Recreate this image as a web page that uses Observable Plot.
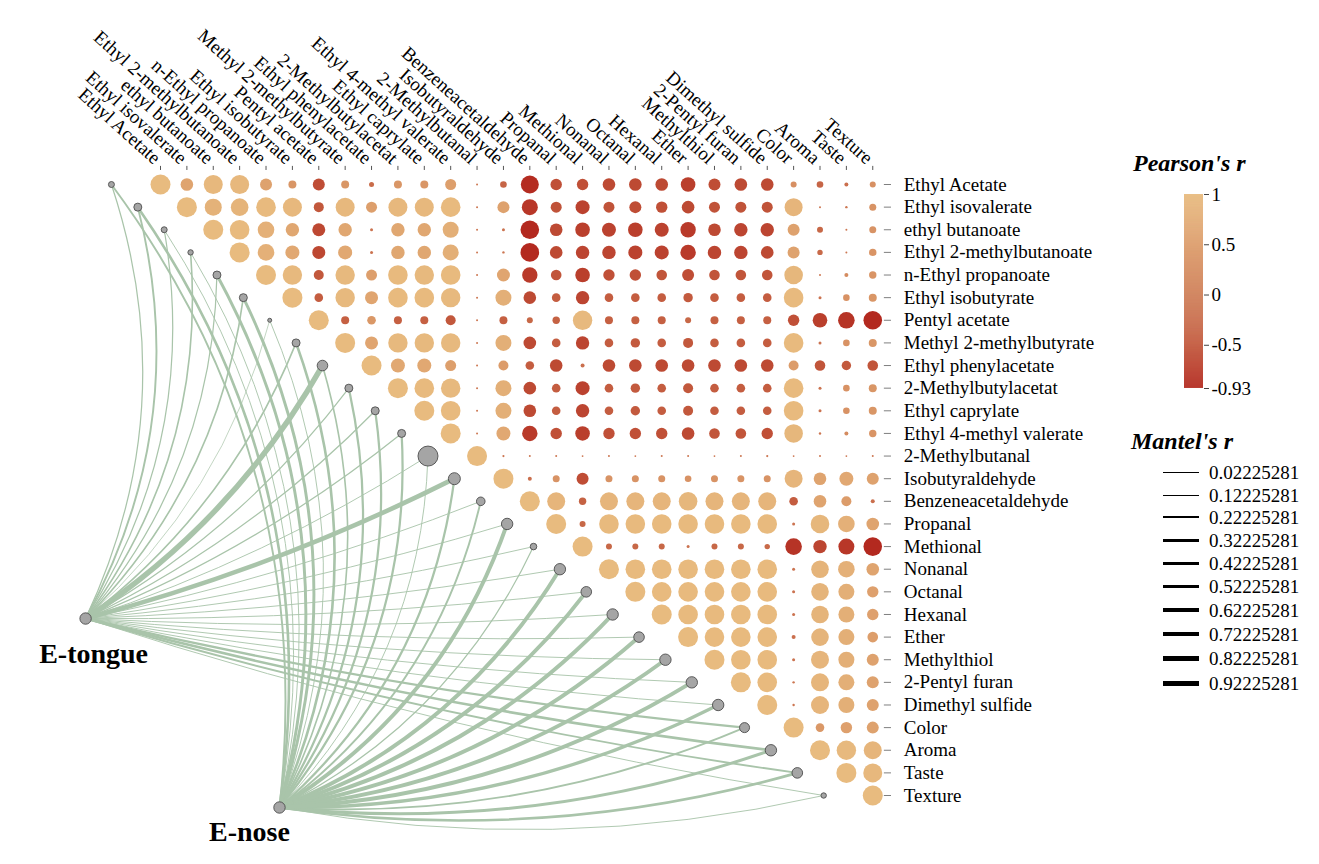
<!DOCTYPE html>
<html><head><meta charset="utf-8">
<script src="https://cdn.jsdelivr.net/npm/d3@7"></script>
<script src="https://cdn.jsdelivr.net/npm/@observablehq/plot@0.6"></script>
<style>
body{margin:0;background:#fff;}
#wrap{position:relative;width:1319px;height:864px;font-family:"Liberation Serif","Times New Roman",serif;color:#000;}
#wrap > *{position:absolute;}
.ttl{font-weight:bold;font-style:italic;font-size:24px;line-height:24px;white-space:nowrap;}
.mrow{display:flex;align-items:center;font-size:19px;}
.mrow span{margin-left:9px;line-height:1;}
</style></head><body><div id="wrap"></div>
<script>
// ---------- data ----------
const variables = ["Ethyl Acetate","Ethyl isovalerate","ethyl butanoate","Ethyl 2-methylbutanoate","n-Ethyl propanoate","Ethyl isobutyrate","Pentyl acetate","Methyl 2-methylbutyrate","Ethyl phenylacetate","2-Methylbutylacetat","Ethyl caprylate","Ethyl 4-methyl valerate","2-Methylbutanal","Isobutyraldehyde","Benzeneacetaldehyde","Propanal","Methional","Nonanal","Octanal","Hexanal","Ether","Methylthiol","2-Pentyl furan","Dimethyl sulfide","Color","Aroma","Taste","Texture"];

// upper triangle of Pearson's r, each row starts at its diagonal
const pearsonRows = [
 [1,0.63,0.95,0.95,0.6,0.4,-0.6,0.4,-0.25,0.4,0.4,0.55,-0.1,-0.33,-0.9,-0.57,-0.57,-0.63,-0.63,-0.63,-0.73,-0.6,-0.63,-0.63,0.3,-0.33,-0.2,0.3],
 [1,0.85,0.88,0.98,0.95,-0.5,0.95,0.55,0.95,0.95,0.98,-0.1,0.6,-0.8,-0.55,-0.7,-0.55,-0.6,-0.57,-0.63,-0.55,-0.55,-0.55,0.9,-0.1,-0.12,0.35],
 [1,0.98,0.83,0.67,-0.65,0.67,-0.15,0.67,0.67,0.8,-0.1,-0.15,-0.93,-0.63,-0.73,-0.7,-0.73,-0.7,-0.77,-0.63,-0.67,-0.67,0.6,-0.3,-0.1,0.35],
 [1,0.83,0.7,-0.65,0.7,-0.15,0.67,0.67,0.8,-0.1,-0.12,-0.93,-0.63,-0.67,-0.67,-0.7,-0.7,-0.77,-0.67,-0.67,-0.63,0.6,-0.27,-0.1,0.37],
 [1,0.97,-0.5,0.97,0.55,0.98,0.97,0.98,-0.1,0.65,-0.77,-0.53,-0.73,-0.57,-0.57,-0.53,-0.6,-0.53,-0.53,-0.53,0.93,-0.1,0.2,0.37],
 [1,-0.43,0.97,0.65,0.98,0.98,0.97,-0.1,0.8,-0.63,-0.43,-0.67,-0.43,-0.43,-0.43,-0.47,-0.43,-0.43,-0.43,0.98,-0.15,0.33,0.4],
 [1,-0.4,0.43,-0.4,-0.4,-0.5,-0.1,-0.4,-0.3,-0.37,0.97,-0.4,-0.4,-0.4,-0.3,-0.4,-0.4,-0.4,-0.57,-0.73,-0.83,-0.93],
 [1,0.65,0.97,0.97,0.97,-0.1,0.8,-0.63,-0.43,-0.67,-0.43,-0.47,-0.43,-0.5,-0.43,-0.43,-0.43,0.98,-0.15,0.33,0.4],
 [1,0.7,0.7,0.55,-0.1,0.5,-0.43,-0.63,-0.2,-0.63,-0.63,-0.63,-0.63,-0.63,-0.63,-0.63,0.5,-0.53,-0.47,-0.53],
 [1,0.98,0.97,-0.1,0.8,-0.63,-0.43,-0.7,-0.43,-0.47,-0.43,-0.5,-0.43,-0.43,-0.43,0.98,-0.15,0.33,0.4],
 [1,0.98,-0.1,0.8,-0.63,-0.43,-0.67,-0.43,-0.47,-0.43,-0.5,-0.43,-0.43,-0.43,0.98,-0.15,0.33,0.4],
 [1,-0.1,0.7,-0.77,-0.57,-0.73,-0.57,-0.57,-0.57,-0.63,-0.53,-0.53,-0.57,0.93,-0.12,0.2,0.37],
 [1,-0.11,-0.1,-0.1,-0.09,-0.1,-0.09,-0.1,-0.1,-0.09,-0.1,-0.11,-0.09,-0.1,-0.09,-0.1],
 [1,-0.2,0.35,-0.6,0.35,0.35,0.35,0.33,0.35,0.35,0.35,0.9,0.63,0.7,0.6],
 [1,0.9,-0.37,0.9,0.9,0.9,0.93,0.9,0.9,0.9,-0.43,0.63,0.5,-0.2],
 [1,-0.3,0.98,0.98,0.98,0.98,0.98,0.98,0.98,-0.15,0.93,0.83,0.63],
 [1,-0.3,-0.3,-0.3,-0.15,-0.3,-0.3,-0.27,-0.83,-0.67,-0.8,-0.93],
 [1,0.98,0.98,0.98,0.98,0.98,0.98,-0.15,0.88,0.83,0.63],
 [1,0.98,0.98,0.98,0.98,0.98,-0.15,0.88,0.8,0.57],
 [1,0.98,0.98,0.98,0.98,-0.15,0.88,0.8,0.57],
 [1,0.98,0.98,0.98,-0.2,0.88,0.8,0.53],
 [1,0.98,0.98,-0.15,0.9,0.8,0.6],
 [1,0.98,-0.12,0.9,0.8,0.6],
 [1,-0.12,0.9,0.8,0.6],
 [1,0.43,0.57,0.6],
 [1,0.97,0.9],
 [1,0.95],
 [1]
];

// Mantel's r of each variable with E-tongue and E-nose
const mantelTongue = [0.12,0.25,0.12,0.19,0.12,0.19,0.02,0.19,0.92,0.12,0.12,0.12,0.06,0.76,0.06,0.06,0.06,0.06,0.06,0.06,0.06,0.06,0.06,0.06,0.31,0.38,0.25,0.06];
const mantelNose   = [0.25,0.38,0.06,0.06,0.44,0.44,0.06,0.38,0.19,0.31,0.31,0.31,0.06,0.31,0.25,0.63,0.12,0.63,0.63,0.63,0.63,0.63,0.63,0.5,0.25,0.44,0.38,0.06];
// relative node weights (size of grey nodes)
const nodeWeight = [0.3,0.4,0.3,0.27,0.4,0.4,0.2,0.4,0.53,0.4,0.4,0.4,1.0,0.6,0.43,0.57,0.33,0.57,0.53,0.57,0.53,0.57,0.57,0.57,0.5,0.57,0.53,0.27];
const envNames = ["E-tongue","E-nose"];
const envWeight = [0.57,0.57];

const pearsonTicks = [1,0.5,0,-0.5,-0.93];
const mantelLegend = [0.02225281,0.12225281,0.22225281,0.32225281,0.42225281,0.52225281,0.62225281,0.72225281,0.82225281,0.92225281];

// ---------- layout (pixels) ----------
const W = 1319, H = 864;
const col0 = 160, colStep = 26.38, row0 = 184, rowStep = 22.63;
const nodeShift = 1.86;                // nodes sit left of the diagonal (in columns)
const envPos = [[-1.84, 20.18], [5.51, 28.53]]; // E-tongue, E-nose in grid units
const font = '"Liberation Serif","Times New Roman",serif';

const colorScale = {type:"linear", domain:[-0.93,-0.5,0,0.5,1],
  range:["#b3291f","#c2583c","#cf7f58","#dc9c6a","#e8bb7f"]};
const widthOf = r => 0.6 + 5.3*r;

// ---------- derived tables ----------
const n = variables.length;
const cells = [];
pearsonRows.forEach((row,i) => row.forEach((r,k) => cells.push({row:i+1, col:i+1+k, r})));
const nodes = variables.map((v,i) => ({name:v, col:i+1-nodeShift, row:i+1, w:nodeWeight[i]}));
const envs = envNames.map((name,i) => ({name, col:envPos[i][0], row:envPos[i][1], w:envWeight[i]}));
const links = [];
[mantelTongue, mantelNose].forEach((arr,e) => arr.forEach((r,i) =>
  links.push({env:envNames[e], sx:envs[e].col, sy:envs[e].row, tx:nodes[i].col, ty:nodes[i].row, r})));
links.sort((a,b)=>a.r-b.r);

// curved link: quadratic bend to the right of the travel direction
function makeBend(bendOf){
  return function(context){
    let pts=[];
    return {
      areaStart(){}, areaEnd(){},
      lineStart(){pts=[];},
      point(x,y){pts.push([+x,+y]);},
      lineEnd(){
        if(pts.length<2) return;
        const [x0,y0]=pts[0],[x1,y1]=pts[pts.length-1];
        const dx=x1-x0, dy=y1-y0;
        const s = Math.abs(dy)/Math.hypot(dx,dy);
        const k = bendOf(s);
        context.moveTo(x0,y0);
        context.quadraticCurveTo((x0+x1)/2 - k*dy, (y0+y1)/2 + k*dx, x1, y1);
      }
    };
  };
}
const tongueCurve = makeBend(s => 0.03 + 0.17*s*s);
const noseCurve = makeBend(s => 0.1 + 0.1*s);
const linkStyle = {x1:"sx", y1:"sy", x2:"tx", y2:"ty", stroke:"#a9c4aa", strokeWidth: d => widthOf(d.r)};

const main = Plot.plot({
  width: W, height: H, margin: 0,
  style: {fontFamily: font, background: "transparent", color: "#000"},
  x: {domain: [1 - col0/colStep, 1 + (W-col0)/colStep], range: [0, W], axis: null},
  y: {domain: [1 - row0/rowStep, 1 + (H-row0)/rowStep], range: [0, H], axis: null},
  r: {type: "linear", domain: [0,1], range: [0,10]},
  color: colorScale,
  marks: [
    Plot.link(links.filter(d=>d.env==="E-tongue"), {...linkStyle, curve: tongueCurve}),
    Plot.link(links.filter(d=>d.env==="E-nose"), {...linkStyle, curve: noseCurve}),
    Plot.dot(nodes, {x:"col", y:"row", r:"w", fill:"#a5a5a5", stroke:"#4d4d4d", strokeWidth:0.9}),
    Plot.dot(envs, {x:"col", y:"row", r:"w", fill:"#a5a5a5", stroke:"#4d4d4d", strokeWidth:0.9}),
    Plot.text(envs.slice(0,1), {x:"col", y:"row", text:"name", dx:8, dy:44, lineAnchor:"bottom",
      fontSize:28, fontWeight:"bold", textAnchor:"middle"}),
    Plot.text(envs.slice(1), {x:"col", y:"row", text:"name", dx:-30, dy:33, lineAnchor:"bottom",
      fontSize:28, fontWeight:"bold", textAnchor:"middle"}),
    Plot.dot(cells, {x:"col", y:"row", r: d => Math.abs(d.r), fill:"r"}),
    // column ticks and labels
    Plot.ruleX(variables, {x:(d,i)=>i+1, y1:0.2, y2:0.38, stroke:"#555", strokeWidth:1}),
    Plot.text(variables, {x:(d,i)=>i+1, y:-0.06, text:d=>d, rotate:42, textAnchor:"end",
      dx:-3, fontSize:19}),
    // row ticks and labels
    Plot.ruleY(variables, {y:(d,i)=>i+1, x1:n+0.44, x2:n+0.71, stroke:"#7f7f7f", strokeWidth:1}),
    Plot.text(variables, {x:n, y:(d,i)=>i+1, text:d=>d, dx:31, textAnchor:"start", fontSize:19})
  ]
});

const wrap = document.getElementById("wrap");
main.style.left = "0px"; main.style.top = "0px";
wrap.appendChild(main);

// Pearson legend title
const t1 = document.createElement("div");
t1.className = "ttl"; t1.textContent = "Pearson's r";
t1.style.left = "1133px"; t1.style.top = "151px";
wrap.appendChild(t1);

// colour bar
const step = 0.005;
const slices = d3.range(-0.93, 1, step).map(v => ({v, y1:v, y2:Math.min(1, v+step*1.6)}));
const bar = Plot.plot({
  width: 140, height: 222, marginLeft: 34, marginRight: 87, marginTop: 14, marginBottom: 14,
  style: {fontFamily: font, fontSize: "19px", background: "transparent", color:"#000", overflow:"visible"},
  x: {domain:[0,1], axis:null},
  y: {domain:[-0.93,1], axis:null},
  color: colorScale,
  marks: [
    Plot.rectY(slices, {x1:0, x2:1, y1:"y1", y2:"y2", fill:"v"}),
    Plot.axisY(pearsonTicks, {anchor:"right", tickSize:5, tickPadding:3, stroke:"#444",
      tickFormat:d=>String(d), fontSize:19})
  ]
});
bar.style.left = "1150px"; bar.style.top = "180px";
wrap.appendChild(bar);

// Mantel legend
const t2 = document.createElement("div");
t2.className = "ttl"; t2.textContent = "Mantel's r";
t2.style.left = "1131px"; t2.style.top = "429px";
wrap.appendChild(t2);

const ml = document.createElement("div");
ml.style.left = "1160px"; ml.style.top = "462px";
mantelLegend.forEach(v => {
  const w = widthOf(v);
  const h = 21.5 + 0.6*w;
  const row = document.createElement("div");
  row.className = "mrow"; row.style.height = h + "px";
  row.innerHTML = `<svg width="40" height="${h}" shape-rendering="crispEdges"><line x1="3" x2="39" y1="${h/2}" y2="${h/2}" stroke="#000" stroke-width="${Math.max(1, w)}"/></svg><span>${v}</span>`;
  ml.appendChild(row);
});
wrap.appendChild(ml);
</script></body></html>
